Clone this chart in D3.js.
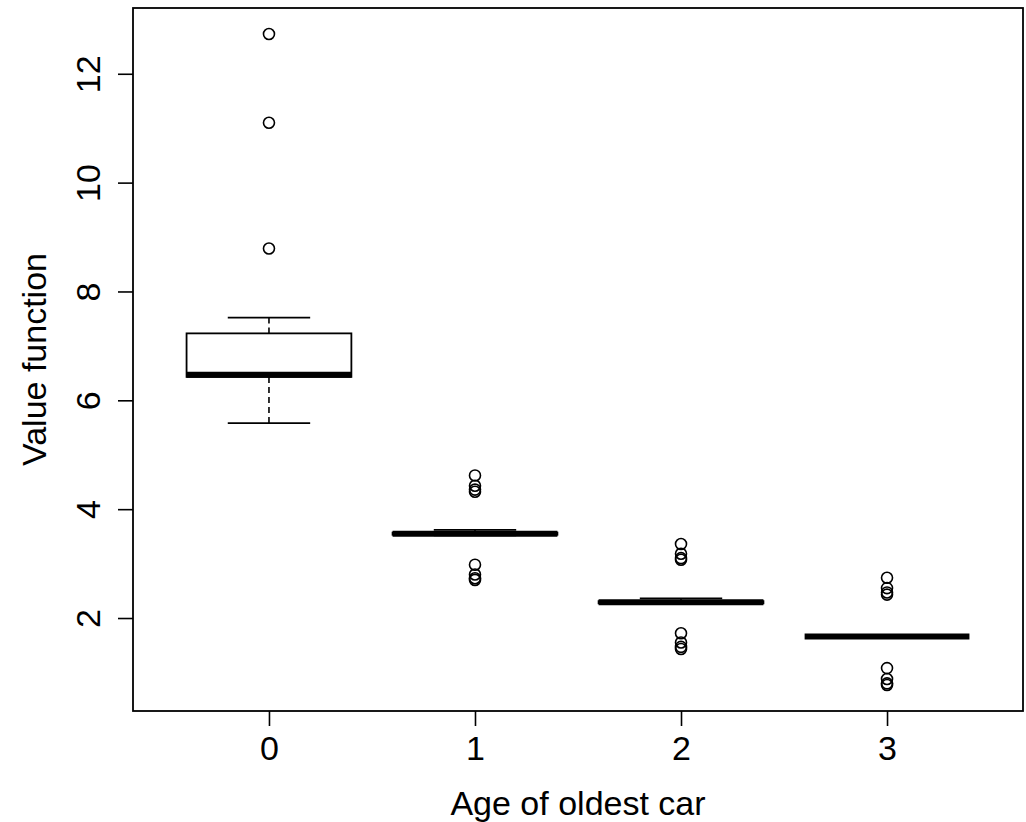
<!DOCTYPE html>
<html>
<head>
<meta charset="utf-8">
<script src="https://cdn.jsdelivr.net/npm/d3@7"></script>
<style>
  body { margin: 0; background: #fff; }
  text { font-family: "Liberation Sans", Arial, sans-serif; fill: #000; }
</style>
</head>
<body>
<div id="chart"></div>
<script>
// groups on the x axis
const categories = ['0', '1', '2', '3'];
// five-number summaries: lower whisker, Q1, median, Q3, upper whisker
const lowerWhisker = [5.58, 3.52, 2.26, 1.66];
const q1 = [6.43, 3.53, 2.27, 1.66];
const median = [6.47, 3.55, 2.29, 1.66];
const q3 = [7.23, 3.57, 2.31, 1.66];
const upperWhisker = [7.52, 3.62, 2.36, 1.66];
// outliers per group
const outliers = [
    [12.73, 11.10, 8.79],
    [4.62, 4.43, 4.36, 4.32, 2.98, 2.80, 2.73, 2.70],
    [3.36, 3.18, 3.10, 3.07, 1.72, 1.55, 1.47, 1.43],
    [2.74, 2.55, 2.47, 2.43, 1.08, 0.88, 0.80, 0.77]
];
const yTicks = [2, 4, 6, 8, 10, 12];

const width = 1026, height = 822;
const margin = { left: 133, top: 8, right: 3, bottom: 111 };
const fontSize = 34;

const svg = d3.select('#chart').append('svg')
    .attr('width', width)
    .attr('height', height);

// R style ranges: 4% padding on the data / slot range
const yMin = d3.min(outliers.flat().concat(lowerWhisker));
const yMax = d3.max(outliers.flat().concat(upperWhisker));
const yPad = (yMax - yMin) * 0.04;
const y = d3.scaleLinear()
    .domain([yMin - yPad, yMax + yPad])
    .range([height - margin.bottom, margin.top]);

const xPad = (categories.length) * 0.04;
const x = d3.scaleLinear()
    .domain([0.5 - xPad, categories.length + 0.5 + xPad])
    .range([margin.left, width - margin.right]);

const slot = x(2) - x(1);
const boxW = 0.8 * slot;

// frame
svg.append('rect')
    .attr('x', margin.left)
    .attr('y', margin.top)
    .attr('width', width - margin.left - margin.right)
    .attr('height', height - margin.top - margin.bottom)
    .attr('fill', 'none')
    .attr('stroke', '#000')
    .attr('stroke-width', 1.8);

// axes
const yAxis = d3.axisLeft(y).tickValues(yTicks).tickSize(15).tickFormat(d3.format('d'));
const gy = svg.append('g')
    .attr('transform', `translate(${margin.left},0)`)
    .call(yAxis);
gy.select('.domain').remove();
gy.selectAll('.tick line').attr('stroke', '#000').attr('stroke-width', 1.6);
gy.selectAll('.tick text')
    .attr('font-size', fontSize)
    .attr('text-anchor', 'middle')
    .attr('x', 0)
    .attr('dy', 0)
    .attr('transform', 'translate(-33,0) rotate(-90)');

const xAxis = d3.axisBottom(x).tickValues(categories.map((d, i) => i + 1))
    .tickFormat((d, i) => categories[i]).tickSize(15);
const gx = svg.append('g')
    .attr('transform', `translate(0,${height - margin.bottom})`)
    .call(xAxis);
gx.select('.domain').remove();
gx.selectAll('.tick line').attr('stroke', '#000').attr('stroke-width', 1.6);
gx.selectAll('.tick text')
    .attr('font-size', fontSize)
    .attr('y', 49)
    .attr('dy', 0);

// axis titles
svg.append('text')
    .attr('x', (margin.left + width - margin.right) / 2)
    .attr('y', 815)
    .attr('text-anchor', 'middle')
    .attr('font-size', fontSize)
    .text('Age of oldest car');

svg.append('text')
    .attr('transform', `translate(46,${(margin.top + height - margin.bottom) / 2}) rotate(-90)`)
    .attr('text-anchor', 'middle')
    .attr('font-size', fontSize)
    .text('Value function');

// boxes
const groups = svg.append('g').selectAll('g')
    .data(categories)
    .enter()
    .append('g')
    .attr('class', (d, i) => 'box box-' + i);

groups.each(function(d, i) {
    const g = d3.select(this);
    const cx = x(i + 1);

    // whiskers (dashed)
    g.append('line')
        .attr('x1', cx).attr('x2', cx)
        .attr('y1', y(upperWhisker[i])).attr('y2', y(q3[i]))
        .attr('stroke', '#000').attr('stroke-width', 1.6)
        .attr('stroke-dasharray', '6,4');
    g.append('line')
        .attr('x1', cx).attr('x2', cx)
        .attr('y1', y(q1[i])).attr('y2', y(lowerWhisker[i]))
        .attr('stroke', '#000').attr('stroke-width', 1.6)
        .attr('stroke-dasharray', '6,4');

    // staples
    [upperWhisker[i], lowerWhisker[i]].forEach(v => {
        g.append('line')
            .attr('x1', cx - boxW / 4).attr('x2', cx + boxW / 4)
            .attr('y1', y(v)).attr('y2', y(v))
            .attr('stroke', '#000').attr('stroke-width', 1.8);
    });

    // box
    g.append('rect')
        .attr('x', cx - boxW / 2)
        .attr('y', y(q3[i]))
        .attr('width', boxW)
        .attr('height', Math.max(0, y(q1[i]) - y(q3[i])))
        .attr('fill', '#fff')
        .attr('stroke', '#000')
        .attr('stroke-width', 1.8);

    // median
    g.append('line')
        .attr('x1', cx - boxW / 2).attr('x2', cx + boxW / 2)
        .attr('y1', y(median[i])).attr('y2', y(median[i]))
        .attr('stroke', '#000').attr('stroke-width', 6);

    // outliers
    g.selectAll('circle').data(outliers[i])
        .enter()
        .append('circle')
        .attr('cx', cx)
        .attr('cy', v => y(v))
        .attr('r', 5.5)
        .attr('fill', 'none')
        .attr('stroke', '#000')
        .attr('stroke-width', 1.6);
});
</script>
</body>
</html>
